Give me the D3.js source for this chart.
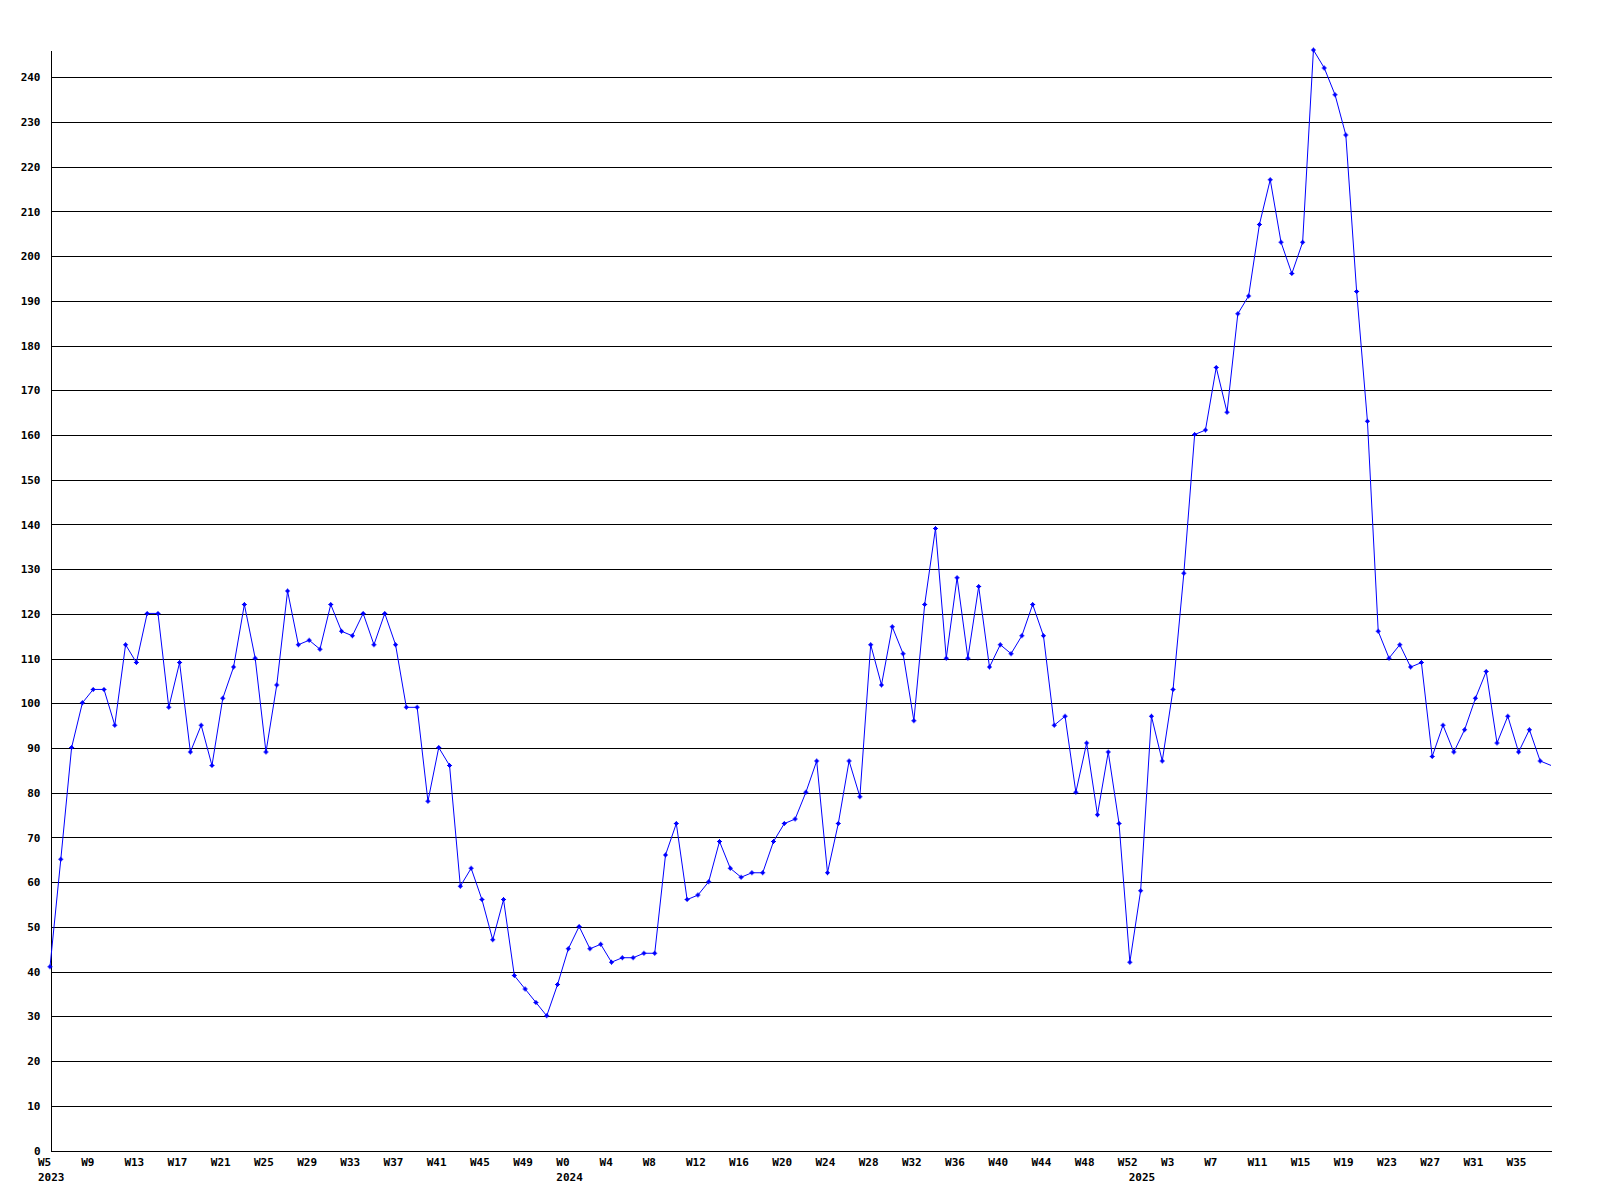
<!DOCTYPE html>
<html>
<head>
<meta charset="utf-8">
<script src="https://cdn.jsdelivr.net/npm/d3@7/dist/d3.min.js"></script>
<style>
  html, body { margin: 0; padding: 0; background: #ffffff; }
  svg { display: block; }
  text { font-family: "DejaVu Sans Mono", "Liberation Mono", monospace; font-weight: bold; font-size: 11px; fill: #000; }
</style>
</head>
<body>
<svg id="chart" width="1600" height="1200"></svg>
<script>
// ---- Data (weekly values, 2023 W5 .. 2025 W38) ----
const values2023 = [41, 65, 90, 100, 103, 103, 95, 113, 109, 120, 120, 99, 109, 89, 95, 86,
  101, 108, 122, 110, 89, 104, 125, 113, 114, 112, 122, 116, 115, 120, 113, 120,
  113, 99, 99, 78, 90, 86, 59, 63, 56, 47, 56, 39, 36, 33, 30, 37];
const values2024 = [45, 50, 45, 46, 42, 43, 43, 44, 44, 66, 73, 56, 57, 60, 69, 63,
  61, 62, 62, 69, 73, 74, 80, 87, 62, 73, 87, 79, 113, 104, 117, 111,
  96, 122, 139, 110, 128, 110, 126, 108, 113, 111, 115, 122, 115, 95, 97, 80,
  91, 75, 89, 73, 42];
const values2025 = [58, 97, 87, 103, 129, 160, 161, 175, 165, 187, 191, 207, 217, 203, 196, 203,
  246, 242, 236, 227, 192, 163, 116, 110, 113, 108, 109, 88, 95, 89, 94, 101,
  107, 91, 97, 89, 94, 87, 86];

// tick labels, one every 4th week
const weekTickLabels = ["W5", "W9", "W13", "W17", "W21", "W25", "W29", "W33", "W37", "W41", "W45", "W49",
  "W0", "W4", "W8", "W12", "W16", "W20", "W24", "W28", "W32", "W36", "W40", "W44", "W48",
  "W52", "W3", "W7", "W11", "W15", "W19", "W23", "W27", "W31", "W35"];
const yearLabels = ["2023", "2024", "2025"];
const yTickValues = [0, 10, 20, 30, 40, 50, 60, 70, 80, 90, 100, 110, 120, 130, 140, 150,
  160, 170, 180, 190, 200, 210, 220, 230, 240];

const values = values2023.concat(values2024, values2025);
const yearStarts = [0, values2023.length, values2023.length + values2024.length];

// ---- Layout ----
const M = { left: 50, right: 1551, top: 50, bottom: 1150 };
const svg = d3.select("#chart");
svg.append("rect").attr("width", 1600).attr("height", 1200).attr("fill", "#fff");

const x = d3.scaleLinear().domain([0, values.length - 1]).range([M.left, M.right]);
const y = d3.scaleLinear().domain([0, d3.max(values)]).range([M.bottom, M.top]);

// Y axis with full-width gridlines
const yAxis = d3.axisLeft(y)
  .tickValues(yTickValues)
  .tickSize(-(M.right - M.left))
  .tickSizeOuter(0)
  .tickPadding(10)
  .tickFormat(d3.format("d"));

const gy = svg.append("g")
  .attr("transform", `translate(${M.left + 0.5},0.5)`)
  .call(yAxis);
gy.selectAll(".tick line").attr("stroke", "#000").attr("stroke-width", 1).attr("shape-rendering", "crispEdges");
gy.select(".domain").attr("stroke", "#000").attr("stroke-width", 1).attr("shape-rendering", "crispEdges");
gy.selectAll(".tick text")
  .attr("font-family", "DejaVu Sans Mono, monospace")
  .attr("font-weight", "bold")
  .attr("font-size", 11)
  .attr("fill", "#000");

// X tick labels (every 4th week) and year labels
const gx = svg.append("g");
gx.selectAll("text.week")
  .data(weekTickLabels)
  .join("text")
  .attr("class", "week")
  .attr("x", (d, i) => x(i * 4) - 12)
  .attr("y", M.bottom + 12)
  .attr("dy", "0.35em")
  .attr("text-anchor", "start")
  .text(d => d);

gx.selectAll("text.year")
  .data(yearLabels)
  .join("text")
  .attr("class", "year")
  .attr("x", (d, i) => x(yearStarts[i]) - 12)
  .attr("y", M.bottom + 27)
  .attr("dy", "0.35em")
  .attr("text-anchor", "start")
  .text(d => d);

// Line
const line = d3.line()
  .x((d, i) => x(i))
  .y(d => y(d));

svg.append("path")
  .datum(values)
  .attr("fill", "none")
  .attr("stroke", "#0000ff")
  .attr("stroke-width", 1)
  .attr("d", line);

// Markers (the last, still-running week has no marker)
const marker = "M-2.5,-0.5h5v1h-5z M-0.5,-2.5h1v5h-1z M-1.5,-1.5h3v3h-3z";
svg.append("g")
  .selectAll("path")
  .data(values.slice(0, -1))
  .join("path")
  .attr("transform", (d, i) => `translate(${x(i)},${y(d)})`)
  .attr("d", marker)
  .attr("fill", "#0000ff");
</script>
</body>
</html>
